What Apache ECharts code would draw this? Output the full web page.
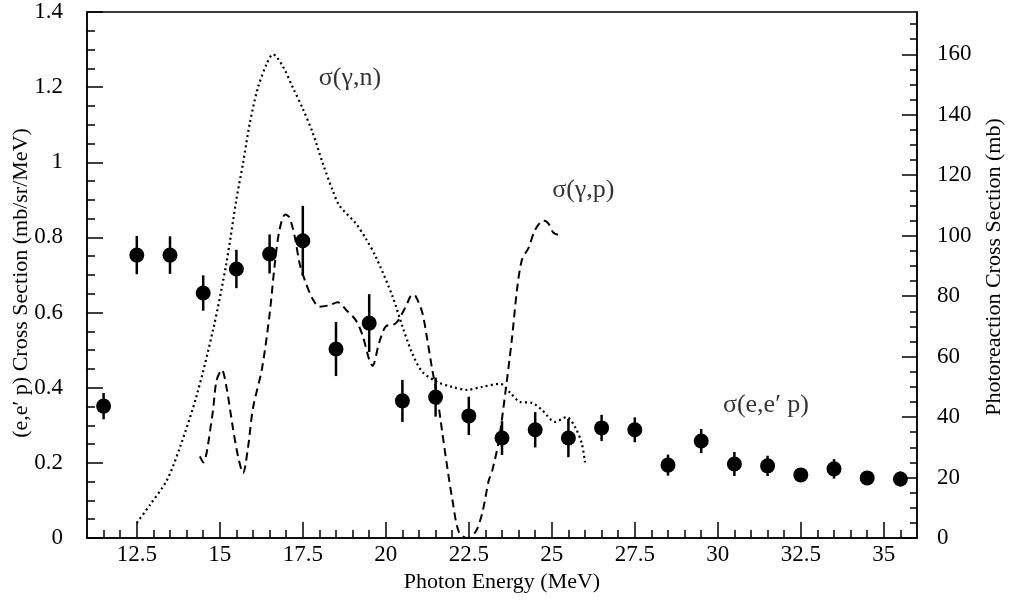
<!DOCTYPE html>
<html>
<head>
<meta charset="utf-8">
<script src="https://cdn.jsdelivr.net/npm/echarts@6/dist/echarts.min.js"></script>
<style>
html,body{margin:0;padding:0;background:#fff;}
#chart{width:1011px;height:601px;}
</style>
</head>
<body>
<div id="chart"></div>
<script>
// ---- data ----
const eepEnergy = [11.5,12.5,13.5,14.5,15.5,16.5,17.5,18.5,19.5,20.5,21.5,22.5,23.5,24.5,25.5,26.5,27.5,28.5,29.5,30.5,31.5,32.5,33.5,34.5,35.5];
const eepValue  = [0.351,0.753,0.753,0.652,0.716,0.756,0.791,0.503,0.572,0.365,0.375,0.325,0.266,0.288,0.266,0.293,0.288,0.194,0.258,0.197,0.192,0.168,0.184,0.160,0.157];
const eepError  = [0.035,0.051,0.050,0.047,0.051,0.052,0.093,0.072,0.077,0.056,0.052,0.051,0.045,0.047,0.051,0.035,0.033,0.028,0.032,0.032,0.027,0.018,0.026,0.018,0.020];

const gnEnergy = [12.5,12.9,13.4,13.8,14.3,14.8,15.2,15.5,15.7,15.9,16.15,16.42,16.6,16.9,17.2,17.5,17.8,18.1,18.4,18.6,19.1,19.4,19.7,20.2,20.5,20.8,21.1,21.55,22.0,22.45,22.9,23.45,23.75,24.05,24.4,24.7,25.1,25.45,25.7,25.9,26.0];
const gnValue  = [5,11,19,30,47,69,91,112,124,137,149,157,160,156,149,142,134,124,115,110,104,99,93,80,70,61,55,51.6,50,49,50,51,48,45,44.7,42.4,38.4,40,36.7,31.4,25];

const gpEnergy = [14.4,14.5,14.78,14.9,15.06,15.2,15.4,15.55,15.7,15.85,16.0,16.27,16.5,16.66,16.8,16.97,17.1,17.27,17.4,17.57,17.8,18.0,18.3,18.55,18.8,19.1,19.3,19.5,19.6,19.8,20.0,20.3,20.6,20.8,20.9,21.1,21.25,21.4,21.55,21.7,21.85,22.0,22.2,22.45,22.7,22.9,23.1,23.2,23.4,23.6,23.8,23.95,24.1,24.3,24.5,24.75,24.9,25.05,25.3];
const gpValue  = [27,25,41,52,55.6,50,36,27,21.5,30,43,56,74,91,102,107,106,99,91,85,79,76.5,77,78,75.5,72,67,59,57,64.6,70,71,76.5,80.5,80,74.5,65.6,55.6,46.7,35,23.5,13,2,0,2,8,19,22,32,48,66,82,92,96,102,105,104,101,100];

const xMajorTicks = [12.5,15,17.5,20,22.5,25,27.5,30,32.5,35];
const xMinorTicks = [11.5,12,13,13.5,14,14.5,15.5,16,16.5,17,18,18.5,19,19.5,20.5,21,21.5,22,23,23.5,24,24.5,25.5,26,26.5,27,28,28.5,29,29.5,30.5,31,31.5,32,33,33.5,34,34.5,35.5];
const leftMajorTicks = [0,0.2,0.4,0.6,0.8,1,1.2,1.4];
const leftMinorTicks = [0.05,0.1,0.15,0.25,0.3,0.35,0.45,0.5,0.55,0.65,0.7,0.75,0.85,0.9,0.95,1.05,1.1,1.15,1.25,1.3,1.35];
const rightMajorTicks = [0,20,40,60,80,100,120,140,160];
const rightMinorTicks = [5,10,15,25,30,35,45,50,55,65,70,75,85,90,95,105,110,115,125,130,135,145,150,155,165,170];

const annotationTexts = ['σ(γ,n)','σ(γ,p)','σ(e,e′ p)'];
const annotationX = [18.92, 25.95, 31.45];
const annotationY = [1.224, 0.926, 0.354];

// ---- chart ----
const FONT = '"Liberation Serif","DejaVu Serif",serif';
const INK = '#000';
const chart = echarts.init(document.getElementById('chart'), null, {renderer:'canvas'});

const zip = (a,b) => a.map((v,i)=>[v,b[i]]);

const option = {
  animation: false,
  backgroundColor: '#fff',
  grid: {left: 87, right: 94, top: 12, bottom: 63, outerBoundsMode: 'none', containLabel: false,
         show: true, borderColor: INK, borderWidth: 1.5, backgroundColor: 'transparent'},
  xAxis: [
    {type:'value', min:11, max:36, position:'bottom',
     name:'Photon Energy (MeV)', nameLocation:'middle', nameGap:33, nameMoveOverlap:false,
     nameTextStyle:{fontFamily:FONT, fontSize:22, color:INK},
     axisLine:{show:true, onZero:false, lineStyle:{color:INK, width:1.5}},
     axisTick:{show:true, inside:true, length:16, customValues:xMajorTicks, lineStyle:{color:INK, width:1.5}},
     axisLabel:{show:true, margin:5, fontFamily:FONT, fontSize:23, color:INK, customValues:xMajorTicks},
     splitLine:{show:false}},
    {type:'value', min:11, max:36, position:'bottom', gridIndex:0,
     axisLine:{show:false},
     axisTick:{show:true, inside:true, length:8, customValues:xMinorTicks, lineStyle:{color:INK, width:1.5}},
     axisLabel:{show:false}, splitLine:{show:false}}
  ],
  yAxis: [
    {type:'value', min:0, max:1.4, position:'left',
     name:'(e,e′ p) Cross Section (mb/sr/MeV)', nameLocation:'middle', nameGap:55, nameMoveOverlap:false,
     nameTextStyle:{fontFamily:FONT, fontSize:22, color:INK, padding:[0,16,0,0]},
     axisLine:{show:true, onZero:false, lineStyle:{color:INK, width:1.5}},
     axisTick:{show:true, inside:true, length:16, customValues:leftMajorTicks, lineStyle:{color:INK, width:1.5}},
     axisLabel:{show:true, margin:24, fontFamily:FONT, fontSize:23, color:INK, customValues:leftMajorTicks},
     splitLine:{show:false}},
    {type:'value', min:0, max:174, position:'right',
     name:'Photoreaction Cross Section (mb)', nameLocation:'middle', nameGap:66, nameMoveOverlap:false,
     nameTextStyle:{fontFamily:FONT, fontSize:22, color:INK, padding:[0,0,0,16]},
     axisLine:{show:true, onZero:false, lineStyle:{color:INK, width:1.5}},
     axisTick:{show:true, inside:true, length:15, customValues:rightMajorTicks, lineStyle:{color:INK, width:1.5}},
     axisLabel:{show:true, margin:20, fontFamily:FONT, fontSize:23, color:INK, customValues:rightMajorTicks},
     splitLine:{show:false}},
    {type:'value', min:0, max:1.4, position:'left', gridIndex:0,
     axisLine:{show:false},
     axisTick:{show:true, inside:true, length:8, customValues:leftMinorTicks, lineStyle:{color:INK, width:1.5}},
     axisLabel:{show:false}, splitLine:{show:false}},
    {type:'value', min:0, max:174, position:'right', gridIndex:0,
     axisLine:{show:false},
     axisTick:{show:true, inside:true, length:7, customValues:rightMinorTicks, lineStyle:{color:INK, width:1.5}},
     axisLabel:{show:false}, splitLine:{show:false}}
  ],
  series: [
    {type:'line', name:'gn', xAxisIndex:0, yAxisIndex:1, data: zip(gnEnergy, gnValue),
     smooth:0.3, showSymbol:false, symbol:'none', clip:true,
     lineStyle:{color:INK, width:2.2, type:[2,3.2]}},
    {type:'line', name:'gp', xAxisIndex:0, yAxisIndex:1, data: zip(gpEnergy, gpValue),
     smooth:0.3, showSymbol:false, symbol:'none', clip:true,
     lineStyle:{color:INK, width:2, type:[8,5]}},
    {type:'custom', name:'err', xAxisIndex:0, yAxisIndex:0,
     data: eepEnergy.map((e,i)=>[e, eepValue[i]-eepError[i], eepValue[i]+eepError[i]]),
     renderItem: function(params, api){
       const p1 = api.coord([api.value(0), api.value(1)]);
       const p2 = api.coord([api.value(0), api.value(2)]);
       return {type:'line', shape:{x1:p1[0], y1:p1[1], x2:p2[0], y2:p2[1]}, style:{stroke:INK, lineWidth:2.5}};
     }, z:3},
    {type:'scatter', name:'eep', xAxisIndex:0, yAxisIndex:0, data: zip(eepEnergy, eepValue),
     symbol:'circle', symbolSize:15, itemStyle:{color:INK, opacity:1}, z:4},
    {type:'scatter', name:'ann', xAxisIndex:0, yAxisIndex:0, silent:true, symbolSize:0,
     data: annotationTexts.map((t,i)=>({name:t, value:[annotationX[i], annotationY[i]]})),
     label:{show:true, position:'inside', formatter: p=>p.name, fontFamily:FONT, fontSize:26, color:INK}, z:5}
  ]
};
chart.setOption(option);
</script>
</body>
</html>
